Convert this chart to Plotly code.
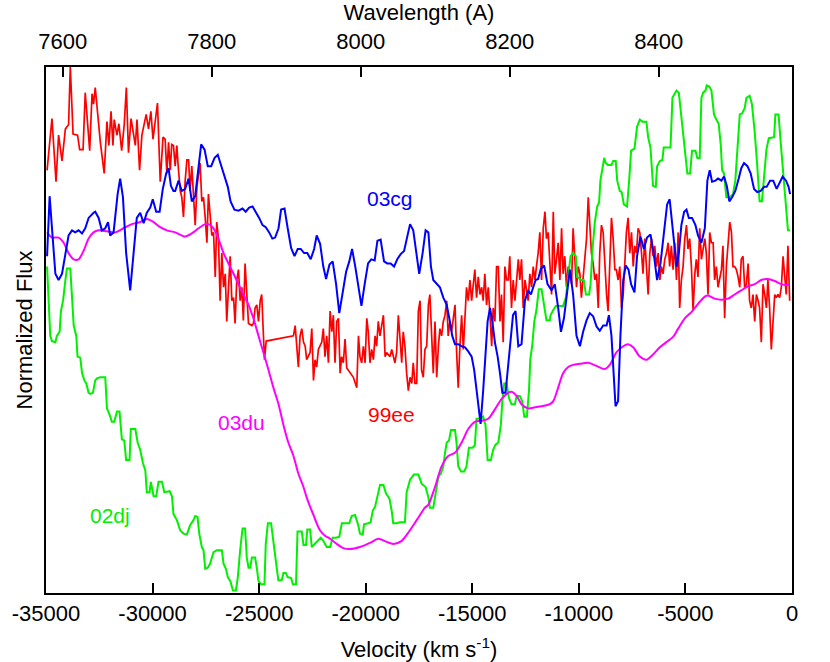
import plotly.graph_objects as go

# ---------------- data (velocity in km/s, flux in arbitrary normalized units) ----------------
RED_V = [
    -34950, -34720, -34530, -34410, -34250, -34090, -33940, -33860, -33730, -33520,
    -33420, -33260, -33160, -32950, -32840, -32770, -32690, -32580, -32450, -32270,
    -32140, -32050, -31950, -31860, -31800, -31670, -31580, -31450, -31330, -31230,
    -31130, -31010, -30810, -30730, -30610, -30500, -30300, -30190, -30080, -29980,
    -29770, -29640, -29510,
    -29410, -29330, -29250, -29170, -29100, -29020, -28940, -28860, -28810, -28700,
    -28630, -28550, -28470, -28390, -28310, -28240, -28160, -28080, -28000, -27920,
    -27840, -27770, -27690, -27610, -27530, -27450, -27380, -27300, -27220, -27140,
    -27060, -26990, -26910, -26830, -26750, -26670, -26590, -26520, -26440, -26360,
    -26280, -26200, -26130, -26050, -25970, -25890, -25810, -25740, -25660, -25580,
    -25500, -25340, -25270, -25190, -25110, -25030, -24950, -24880, -24800, -24750,
    -24670, -23390,
    -23310, -23240, -23160, -23080, -23000, -22920, -22840, -22770, -22690, -22610,
    -22530, -22450, -22380, -22300, -22220, -22140, -22060, -21990, -21910, -21830,
    -21750, -21670, -21590, -21520, -21440, -21360, -21280, -21200, -21130, -21050,
    -20970, -20890, -20740, -20580, -20420, -20340, -20270, -20190, -20110, -20030,
    -19950, -19880, -19800, -19720, -19640, -19560, -19490, -19410, -19330, -19170,
    -19090, -19020, -18860, -18780, -18630, -18550, -18470, -18390, -18310, -18240,
    -18160, -18080, -18000, -17920, -17840, -17770, -17690,
    -17610, -17530, -17450, -17380, -17300, -17220, -17140, -17060, -16990, -16910,
    -16830, -16750, -16670, -16590, -16520, -16440, -16360, -16280, -16200, -16130,
    -16050, -15970, -15890, -15810, -15740, -15660, -15580, -15500, -15420, -15340,
    -15270, -15190, -15110, -15030, -14950, -14880, -14800, -14720, -14640, -14560,
    -14490, -14410, -14330, -14250, -14170, -14090, -14020, -13940, -13860, -13780,
    -13700, -13630, -13550, -13470, -13390, -13310, -13240, -13160, -13080, -13000,
    -12920, -12840, -12770, -12690, -12610, -12530, -12450, -12380, -12300, -12220,
    -12140, -12060, -11990, -11910, -11830, -11750, -11670, -11590, -11520, -11440,
    -11360,
    -11280, -11200, -11130, -11050, -10970, -10890, -10810, -10740, -10660, -10580,
    -10500, -10420, -10340, -10270, -10190, -10110, -10030, -9950, -9880, -9800,
    -9720, -9640, -9560, -9490, -9410, -9330, -9250, -9170, -9090, -9020,
    -8940, -8860, -8780, -8700, -8630, -8550, -8470, -8390, -8310, -8240,
    -8160, -8080, -8000, -7920, -7840, -7770, -7690, -7610, -7530, -7450,
    -7380, -7300, -7220, -7140, -7060, -6990, -6910, -6830, -6750, -6670,
    -6590, -6520, -6440, -6360, -6280, -6200, -6130, -6050, -5970,
    -5890, -5810, -5740, -5660, -5580, -5500, -5420, -5340, -5270, -5190,
    -5110, -5030, -4950, -4880, -4800, -4720, -4640, -4560, -4490, -4410,
    -4330, -4250, -4090, -4020, -3940, -3860, -3780, -3700, -3630, -3550,
    -3470, -3390, -3310, -3240, -3160, -3080, -3000, -2920, -2840, -2770,
    -2690, -2610, -2530, -2450, -2380, -2300, -2220, -2140, -2060, -1990,
    -1910, -1830, -1750, -1670, -1590, -1520, -1440, -1360, -1280, -1200,
    -1130, -1050, -970, -890, -810, -740, -660, -580, -500, -420,
    -340, -270, -190, -110,
]
RED_F = [
    4.26, 4.76, 4.15, 4.60, 4.35, 4.66, 4.70, 5.26, 4.61, 4.60,
    4.46, 4.46, 5.01, 4.45, 5.00, 4.90, 5.06, 4.83, 4.53, 4.23,
    4.73, 4.50, 4.83, 4.50, 4.75, 4.60, 4.71, 4.45, 4.70, 5.06,
    4.43, 4.76, 4.50, 4.75, 4.26, 4.60, 4.80, 4.66, 4.83, 4.56,
    4.91, 4.15, 4.58,
    4.56, 4.23, 4.53, 4.26, 4.51, 4.50, 4.30, 4.50, 4.33, 4.06,
    4.00, 3.81, 4.16, 4.36, 4.36, 4.06, 4.30, 4.00, 3.73, 4.10,
    4.26, 4.33, 3.96, 4.00, 3.80, 3.56, 4.03, 3.83, 3.63, 3.66,
    3.23, 3.76, 3.60, 3.00, 3.46, 3.13, 3.26, 2.80, 3.20, 3.43,
    3.00, 3.03, 2.78, 3.20, 3.30, 3.00, 3.13, 2.81, 3.36, 3.03,
    2.78, 2.76, 2.78, 2.93, 2.96, 2.80, 3.00, 3.06, 2.60, 2.43,
    2.61, 2.66,
    2.76, 2.56, 2.36, 2.66, 2.73, 2.60, 2.56, 2.43, 2.46, 2.50,
    2.73, 2.23, 2.43, 2.36, 2.53, 2.56, 2.60, 2.73, 2.46, 2.66,
    2.40, 2.90, 2.70, 2.86, 2.40, 2.80, 2.83, 2.30, 2.46, 2.40,
    2.63, 2.35, 2.31, 2.26, 2.16, 2.66, 2.46, 2.40, 2.56, 2.40,
    2.83, 2.70, 2.40, 2.53, 2.43, 2.66, 2.56, 2.80, 2.66, 2.86,
    2.46, 2.50, 2.46, 2.53, 2.40, 2.50, 2.86, 2.60, 2.40, 2.70,
    2.56, 2.30, 2.13, 2.26, 2.20, 2.40, 2.20,
    2.20, 2.90, 3.00, 2.33, 2.26, 2.53, 2.56, 2.96, 3.06, 2.66,
    2.30, 2.80, 2.26, 2.56, 2.73, 2.66, 2.80, 2.86, 3.00, 2.66,
    2.80, 2.70, 2.86, 2.96, 2.53, 2.16, 2.56, 2.86, 2.53, 2.80,
    3.13, 3.00, 3.20, 3.00, 3.20, 3.30, 3.03, 3.23, 3.06, 3.13,
    3.00, 3.26, 2.96, 3.13, 2.86, 2.56, 2.93, 2.80, 3.33, 3.33,
    2.80, 3.06, 2.60, 3.33, 3.20, 3.20, 3.43, 2.93, 3.20, 3.00,
    3.20, 3.40, 3.20, 3.40, 2.93, 3.20, 3.10, 3.00, 3.26, 3.13,
    3.33, 3.20, 3.33, 3.46, 3.66, 3.20, 3.70, 3.86, 3.60, 3.66,
    3.36,
    3.06, 3.86, 3.26, 3.40, 3.56, 3.20, 3.70, 3.26, 3.43, 3.13,
    3.33, 3.26, 3.16, 3.70, 3.43, 3.13, 3.33, 3.26, 3.03, 3.20,
    3.40, 3.60, 4.00, 3.73, 3.46, 3.36, 3.20, 3.26, 2.93, 3.46,
    3.73, 3.66, 3.33, 3.06, 2.90, 3.46, 3.80, 3.60, 3.30, 3.30,
    3.20, 3.33, 2.93, 3.06, 3.33, 3.66, 3.80, 3.46, 3.66, 3.33,
    3.53, 3.46, 3.70, 3.66, 3.46, 3.26, 3.60, 3.33, 3.06, 3.46,
    3.60, 3.43, 3.53, 3.33, 3.46, 3.20, 3.33, 3.26, 3.40,
    3.46, 3.56, 3.33, 3.53, 3.30, 3.56, 3.20, 3.66, 2.93, 3.20,
    3.33, 3.60, 3.73, 3.50, 3.60, 3.33, 2.90, 3.26, 3.40, 3.23,
    3.70, 3.40, 3.60, 3.46, 3.06, 3.66, 3.56, 3.56, 3.20, 3.33,
    3.13, 3.20, 3.30, 3.53, 2.83, 3.33, 3.60, 3.76, 3.66, 3.33,
    3.33, 3.30, 3.23, 3.13, 3.40, 3.43, 3.13, 3.16, 3.36, 3.00,
    2.93, 3.06, 2.80, 3.06, 3.00, 2.93, 2.60, 3.16, 3.06, 2.93,
    3.20, 2.93, 2.53, 2.80, 3.06, 3.03, 3.06, 3.03, 3.13, 3.43,
    3.20, 3.06, 3.53, 3.00,
]

BLUE_V = [
    -34950, -34830, -34560, -34410, -34250, -34090, -33940, -33780, -33630, -33470,
    -33310, -33160, -33000, -32770, -32690, -32530, -32380, -32220, -32090, -31990,
    -31830, -31640, -31520, -31390, -31240, -31050, -30890, -30740, -30580, -30420,
    -30270, -30110, -29990, -29830, -29670, -29520, -29360, -29250, -29140, -29020,
    -28940, -28780, -28630, -28470, -28310, -28160, -28000, -27840, -27720, -27560,
    -27410, -27250, -27090, -26940, -26780, -26630, -26470, -26340, -26160, -25970,
    -25780, -25630, -25470, -25310, -25160, -25000, -24840, -24690, -24530, -24380,
    -24250, -24090, -23970, -23810, -23660, -23500, -23340, -23190,
    -23050, -22890, -22740, -22580, -22420, -22300, -22140, -21990, -21860, -21700,
    -21550, -21390, -21240, -21080, -20920, -20770, -20640, -20490, -20330, -20200,
    -20050, -19890, -19740, -19580, -19450, -19300, -19140, -18990, -18830, -18670,
    -18520, -18360, -18200, -18080, -17920, -17770, -17640, -17490, -17330,
    -17190, -17060, -16940, -16830, -16670, -16520, -16360, -16200, -16050, -15940,
    -15810, -15660, -15500, -15340, -15190, -15030, -14910, -14800, -14690, -14610,
    -14490, -14380, -14280, -14170, -14060, -13940, -13810, -13700, -13590, -13440,
    -13310, -13190, -13090, -12970, -12840, -12690, -12530, -12380, -12250, -12140,
    -12030, -11910, -11780, -11630, -11470,
    -11280, -11130, -10970, -10840, -10700, -10580, -10420, -10270, -10110, -9950,
    -9800, -9640, -9490, -9330, -9170, -9020, -8860, -8700, -8590, -8470,
    -8390, -8280, -8160, -8050, -7920, -7800, -7670, -7550, -7390, -7270,
    -7110, -6950, -6800, -6640, -6490, -6330, -6170, -6020, -5860, -5740,
    -5630, -5500, -5410, -5310, -5190, -5060, -4950, -4840, -4690, -4530,
    -4410, -4250, -4090, -3970, -3860, -3750, -3590, -3470, -3310, -3190,
    -3060, -2940, -2810, -2660, -2500, -2380, -2250, -2090, -1940, -1780,
    -1630, -1470, -1310, -1190, -1030, -880, -720, -560, -440, -280,
    -160, -90,
]
BLUE_F = [
    3.43, 4.01, 3.26, 3.20, 3.26, 3.46, 3.63, 3.68, 3.66, 3.68,
    3.65, 3.70, 3.80, 3.85, 3.86, 3.80, 3.68, 3.70, 3.76, 3.63,
    3.66, 4.03, 4.18, 4.00, 3.46, 3.10, 3.46, 3.80, 3.85, 3.75,
    3.85, 3.90, 3.98, 3.86, 3.86, 4.08, 4.23, 4.28, 4.11, 4.06,
    4.06, 4.16, 4.06, 4.08, 4.18, 3.96, 4.01, 4.33, 4.51, 4.46,
    4.30, 4.30, 4.38, 4.41, 4.31, 4.20, 4.10, 3.96, 3.88, 3.87,
    3.89, 3.86, 3.90, 3.91, 3.86, 3.80, 3.73, 3.71, 3.66, 3.60,
    3.61, 3.70, 3.88, 3.89, 3.70, 3.51, 3.43, 3.50,
    3.50, 3.46, 3.46, 3.40, 3.50, 3.63, 3.55, 3.33, 3.21, 3.35,
    3.38, 3.16, 2.88, 3.06, 3.28, 3.38, 3.50, 3.33, 3.10, 2.95,
    3.16, 3.36, 3.40, 3.39, 3.58, 3.59, 3.38, 3.36, 3.36, 3.33,
    3.40, 3.45, 3.48, 3.60, 3.74, 3.68, 3.46, 3.26, 3.46,
    3.68, 3.66, 3.33, 3.20, 3.16, 3.13, 3.03, 2.96, 2.80, 2.66,
    2.58, 2.58, 2.56, 2.55, 2.51, 2.46, 2.33, 2.13, 1.96, 1.81,
    2.13, 2.46, 2.80, 2.93, 2.80, 2.60, 2.46, 2.30, 2.11, 2.11,
    2.40, 2.66, 2.86, 2.90, 2.56, 2.58, 3.00, 3.10, 3.06, 3.13,
    3.20, 3.21, 3.31, 3.34, 3.16,
    3.10, 3.16, 2.93, 2.70, 2.83, 3.03, 3.30, 3.06, 2.66, 2.56,
    2.70, 2.81, 2.88, 2.85, 2.75, 2.71, 2.76, 2.76, 2.86, 2.66,
    2.33, 1.98, 2.03, 2.66, 3.20, 3.34, 3.30, 3.16, 3.08, 3.43,
    3.62, 3.50, 3.61, 3.64, 3.46, 3.20, 3.36, 3.63, 3.93, 3.98,
    3.73, 3.50, 3.33, 3.46, 3.73, 3.86, 3.88, 3.80, 3.80, 3.73,
    3.63, 3.56, 3.70, 4.16, 4.26, 4.15, 4.16, 4.18, 4.16, 4.20,
    4.11, 3.96, 4.00, 4.06, 4.18, 4.28, 4.33, 4.30, 4.23, 4.08,
    4.05, 4.06, 4.10, 4.10, 4.16, 4.16, 4.08, 4.15, 4.20, 4.16,
    4.10, 4.03,
]

MAG_V = [
    -34950, -34720, -34410, -34170, -33940, -33700, -33470, -33240, -33000, -32770,
    -32530, -32140, -31750, -31360, -30970, -30580, -30270, -29950, -29640, -29330,
    -28940, -28470, -28160, -27840, -27530, -27380, -27140, -26910, -26670, -26440,
    -26200, -25970, -25740, -25500, -25270, -25030, -24800, -24560, -24330, -24090,
    -23860, -23630, -23390, -23160,
    -22920, -22770, -22610, -22450, -22300, -22140, -21910, -21670, -21360, -21050,
    -20740, -20270, -19800, -19410, -19020, -18700, -18310, -18000, -17610, -17220,
    -17060, -16750, -16440, -16130, -15810, -15500, -15190, -14880, -14560, -14250,
    -13940, -13630, -13310, -13160, -12920, -12690, -12380, -12060, -11750, -11360,
    -11200, -10970, -10740, -10500, -10270, -9950, -9560, -9170, -8780, -8550,
    -8240, -7920, -7690, -7450, -7140, -6830, -6520, -6200, -5890, -5580,
    -5340, -5030, -4720, -4410, -4090, -3940, -3630, -3310, -3000, -2690,
    -2380, -2060, -1750, -1440, -1130, -810, -500, -270, -110,
]
MAG_F = [
    3.66, 3.61, 3.61, 3.56, 3.46, 3.40, 3.40, 3.48, 3.60, 3.66,
    3.68, 3.67, 3.66, 3.70, 3.74, 3.76, 3.79, 3.76, 3.71, 3.68,
    3.66, 3.62, 3.65, 3.70, 3.74, 3.74, 3.70, 3.60, 3.46, 3.36,
    3.26, 3.16, 3.06, 2.96, 2.83, 2.66, 2.50, 2.33, 2.16, 2.00,
    1.80, 1.63, 1.50, 1.33,
    1.20, 1.10, 1.01, 0.93, 0.85, 0.78, 0.73, 0.70, 0.65, 0.61,
    0.60, 0.62, 0.66, 0.70, 0.67, 0.65, 0.68, 0.76, 0.88, 1.00,
    1.03, 1.20, 1.40, 1.50, 1.53, 1.63, 1.76, 1.83, 1.84, 1.86,
    1.95, 2.05, 2.11, 2.12, 2.08, 2.00, 1.96, 1.97, 1.98, 2.00,
    2.03, 2.16, 2.30, 2.36, 2.38, 2.39, 2.40, 2.37, 2.34, 2.38,
    2.50, 2.56, 2.58, 2.55, 2.46, 2.43, 2.48, 2.55, 2.60, 2.65,
    2.73, 2.83, 2.89, 2.97, 3.04, 3.05, 3.02, 3.01, 3.02, 3.06,
    3.10, 3.14, 3.16, 3.20, 3.21, 3.19, 3.16, 3.15, 3.16,
]

GREEN_V = [
    -34950, -34880, -34800, -34720, -34560, -34490, -34360, -34300, -34200, -34090,
    -34020, -33860, -33780, -33700, -33580, -33520, -33390, -33310, -33200, -33110,
    -33000, -32920, -32800, -32690, -32610, -32450, -32220, -32140, -32020, -31910,
    -31800, -31670, -31550, -31440, -31330, -31240, -31080, -31020, -30810, -30700,
    -30580, -30450, -30340, -30270, -30140, -30080, -29950, -29830, -29720, -29560,
    -29450, -29200, -29090,
    -29020, -28860, -28700, -28550, -28390, -28240, -28080, -28000, -27890, -27810,
    -27690, -27610, -27530, -27410, -27300, -27140, -26980, -26750, -26670, -26560,
    -26470, -26350, -26230, -26090, -26000, -25890, -25780, -25660, -25580, -25500,
    -25420, -25340, -25190, -25110, -25030, -24910, -24750, -24690, -24590, -24440,
    -24330, -24220, -24100, -23940, -23860, -23750, -23660, -23500, -23420, -23270,
    -23200, -23000, -22920, -22800, -22740, -22610, -22530, -22380, -22220, -22110,
    -21990, -21830, -21670, -21550, -21390, -21240, -21120, -20970, -20770, -20660,
    -20500, -20350, -20270, -20140, -20080, -19880, -19770, -19670, -19560, -19460,
    -19330, -19170, -19050, -18890, -18780, -18710, -18550, -18390, -18160, -18080,
    -17920, -17740, -17530, -17370, -17220,
    -17190, -17060, -16990, -16830, -16720, -16590, -16470, -16360, -16280, -16200,
    -16090, -16000, -15810, -15740, -15660, -15530, -15380, -15270, -15160, -15000,
    -14880, -14800, -14640, -14490, -14380, -14280, -14130, -14020, -13910, -13780,
    -13660, -13590, -13500, -13390, -13280, -13160, -13000, -12920, -12770, -12660,
    -12560, -12440, -12340, -12280, -12190, -12090, -11990, -11880, -11750, -11630,
    -11520, -11360,
    -11330, -11200, -11080, -10740, -10610, -10500, -10390, -10270, -10140, -10080,
    -9880, -9770, -9670, -9520, -9450, -9360, -9250, -9140, -9050, -8990,
    -8890, -8810, -8740, -8630, -8470, -8390, -8270, -8200, -8080, -7990,
    -7890, -7740, -7640, -7550, -7390, -7270, -7140, -7020, -6830, -6750,
    -6640, -6520, -6390, -6330, -6200, -6080, -6020, -5700, -5610, -5500,
    -5420, -5310, -5220, -5110, -5000, -4910, -4780, -4690, -4530, -4440,
    -4330, -4250, -4170, -4060, -4000, -3880, -3780, -3660, -3550, -3440,
    -3340, -3280, -3190, -3080, -2920, -2770, -2660, -2530, -2450, -2340,
    -2220, -2140, -1990, -1880, -1750, -1630, -1520, -1410, -1310, -1200,
    -1090, -840, -780, -630, -530, -420, -310, -190, -90,
]
GREEN_F = [
    3.33, 3.00, 2.66, 2.61, 2.60, 2.66, 2.70, 2.90, 3.00, 3.20,
    3.31, 3.31, 3.06, 2.76, 2.66, 2.46, 2.45, 2.30, 2.23, 2.20,
    2.11, 2.10, 2.11, 2.23, 2.25, 2.26, 2.26, 1.96, 1.90, 1.83,
    1.83, 1.93, 1.93, 1.66, 1.65, 1.46, 1.46, 1.76, 1.76, 1.63,
    1.56, 1.43, 1.36, 1.15, 1.15, 1.25, 1.11, 1.11, 1.25, 1.25,
    1.15, 1.16, 1.11,
    0.94, 0.88, 0.78, 0.75, 0.74, 0.83, 0.88, 0.92, 0.91, 0.75,
    0.62, 0.59, 0.41, 0.42, 0.46, 0.57, 0.59, 0.59, 0.46, 0.41,
    0.33, 0.29, 0.20, 0.20, 0.33, 0.59, 0.80, 0.80, 0.52, 0.42,
    0.42, 0.52, 0.52, 0.42, 0.29, 0.26, 0.26, 0.65, 0.85, 0.85,
    0.65, 0.49, 0.30, 0.30, 0.37, 0.37, 0.33, 0.32, 0.26, 0.26,
    0.77, 0.77, 0.64, 0.64, 0.79, 0.79, 0.62, 0.65, 0.68, 0.71,
    0.68, 0.62, 0.62, 0.71, 0.71, 0.72, 0.85, 0.85, 0.85, 0.92,
    0.93, 0.83, 0.75, 0.74, 0.84, 0.85, 0.86, 0.97, 1.01, 1.10,
    1.22, 1.22, 1.14, 1.09, 0.97, 0.85, 0.85, 0.86, 0.86, 1.15,
    1.27, 1.32, 1.32, 1.23, 1.20,
    1.20, 1.10, 1.00, 1.00, 1.13, 1.30, 1.33, 1.40, 1.53, 1.63,
    1.65, 1.75, 1.75, 1.63, 1.40, 1.35, 1.35, 1.40, 1.58, 1.58,
    1.60, 1.86, 1.86, 1.88, 1.80, 1.46, 1.46, 1.56, 1.61, 1.63,
    1.80, 2.03, 2.20, 2.20, 2.06, 2.00, 2.00, 2.08, 2.08, 2.03,
    1.88, 1.88, 2.13, 2.43, 2.56, 2.80, 2.91, 3.11, 3.11, 2.93,
    2.81, 2.81,
    2.86, 2.91, 2.95, 2.95, 3.03, 3.23, 3.43, 3.46, 3.43, 3.23,
    3.20, 3.20, 3.06, 3.06, 3.16, 3.50, 3.76, 3.91, 3.95, 4.16,
    4.30, 4.38, 4.33, 4.31, 4.31, 4.35, 4.35, 4.16, 4.06, 4.05,
    3.93, 3.91, 4.16, 4.45, 4.47, 4.68, 4.75, 4.73, 4.73, 4.58,
    4.48, 4.11, 4.10, 4.30, 4.35, 4.36, 4.48, 4.48, 4.96, 5.01,
    5.03, 5.01, 4.83, 4.56, 4.36, 4.23, 4.23, 4.45, 4.45, 4.38,
    4.38, 4.96, 5.01, 5.03, 5.08, 5.07, 5.03, 4.80, 4.75, 4.71,
    4.50, 4.26, 4.23, 4.00, 4.00, 4.03, 4.16, 4.50, 4.80, 4.81,
    4.86, 4.96, 4.98, 4.90, 4.63, 4.30, 3.96, 3.96, 4.23, 4.46,
    4.57, 4.58, 4.80, 4.80, 4.53, 4.26, 3.93, 3.68, 3.68,
]

LABELS = ["03cg", "99ee", "03du", "02dj"]
LABEL_V = [-18840, -18810, -25810, -31980]
LABEL_F = [3.99, 1.905, 1.82, 0.92]
LABEL_COLORS = ["#0000ff", "#ff0000", "#ff00ff", "#00ee00"]

VEL_TICKS = [-35000, -30000, -25000, -20000, -15000, -10000, -5000, 0]
WAVE_TICKS = [7600, 7800, 8000, 8200, 8400]
REST_WAVE = 8579.0       # Angstrom, rest wavelength used for velocity scale
C_KMS = 299792.458
V_RANGE = [-35000, 0]
F_RANGE = [0.176, 5.258]

FONT = "Liberation Sans, Arial, Helvetica, sans-serif"

fig = go.Figure()
fig.add_trace(go.Scatter(x=RED_V, y=RED_F, mode="lines",
                         line=dict(color="#ff0000", width=1.7), name="99ee"))
fig.add_trace(go.Scatter(x=GREEN_V, y=GREEN_F, mode="lines",
                         line=dict(color="#00f000", width=2), name="02dj"))
fig.add_trace(go.Scatter(x=MAG_V, y=MAG_F, mode="lines",
                         line=dict(color="#ff00ff", width=2, shape="spline", smoothing=0.8),
                         name="03du"))
fig.add_trace(go.Scatter(x=BLUE_V, y=BLUE_F, mode="lines",
                         line=dict(color="#0000ff", width=2), name="03cg"))
# invisible trace carrying the wavelength axis
fig.add_trace(go.Scatter(x=WAVE_TICKS, y=[None] * len(WAVE_TICKS), xaxis="x2", yaxis="y",
                         mode="lines", showlegend=False, hoverinfo="skip"))

for txt, v, f, c in zip(LABELS, LABEL_V, LABEL_F, LABEL_COLORS):
    fig.add_annotation(x=v, y=f, text=txt, showarrow=False, xref="x", yref="y",
                       font=dict(family=FONT, size=21, color=c),
                       xanchor="center", yanchor="middle")

wave_lo = REST_WAVE * (1 + V_RANGE[0] / C_KMS)
wave_hi = REST_WAVE * (1 + V_RANGE[1] / C_KMS)

fig.update_layout(
    width=830, height=662,
    margin=dict(l=46, r=38, t=67, b=69, autoexpand=False),
    plot_bgcolor="white", paper_bgcolor="white",
    showlegend=False,
    font=dict(family=FONT, size=22, color="black"),
    xaxis=dict(
        range=V_RANGE, tickmode="array", tickvals=VEL_TICKS,
        ticktext=[str(t) for t in VEL_TICKS],
        ticks="inside", ticklen=10, tickwidth=1.5, tickcolor="black",
        showline=True, linewidth=2, linecolor="black", mirror=True,
        showgrid=False, zeroline=False, automargin=False,
        tickfont=dict(family=FONT, size=22, color="black"),
        title=dict(text="Velocity (km s<sup>-1</sup>)", standoff=16,
                   font=dict(family=FONT, size=22, color="black")),
    ),
    xaxis2=dict(
        overlaying="x", side="top", anchor="y",
        range=[wave_lo, wave_hi], tickmode="array", tickvals=WAVE_TICKS,
        ticks="inside", ticklen=10, tickwidth=1.5, tickcolor="black",
        ticklabelstandoff=7,
        showline=True, linewidth=2, linecolor="black",
        showgrid=False, zeroline=False, automargin=False,
        tickfont=dict(family=FONT, size=22, color="black"),
        title=dict(text="Wavelength (A)", standoff=5,
                   font=dict(family=FONT, size=22, color="black")),
    ),
    yaxis=dict(
        range=F_RANGE, showticklabels=False, ticks="",
        showline=True, linewidth=2, linecolor="black", mirror=True,
        showgrid=False, zeroline=False, automargin=False,
        title=dict(text="Normalized Flux", standoff=5,
                   font=dict(family=FONT, size=22, color="black")),
    ),
)

fig.write_html("out.html", config={"displayModeBar": False},
               post_script="document.body.style.margin='0';document.body.style.overflow='hidden';")
